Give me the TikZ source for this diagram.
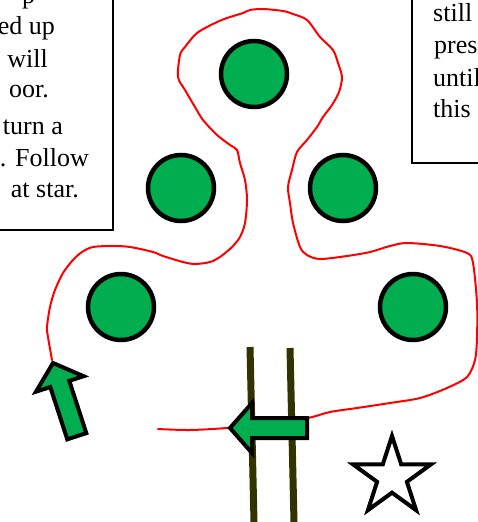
\documentclass[tikz,border=0pt]{standalone}
\usepackage{fontspec}
\setmainfont{Liberation Serif}
\usepackage{tikz}
\usetikzlibrary{shapes.geometric}
\definecolor{treegreen}{RGB}{0,173,79}
\definecolor{postolive}{RGB}{51,51,0}

\begin{document}
\begin{tikzpicture}[
    x=1pt, y=-1pt,
    tree/.style={circle, draw=black, line width=4.5pt, fill=treegreen, minimum size=66pt, inner sep=0pt},
    note/.style={draw=black, line width=1.5pt, fill=white},
    notetext/.style={font=\fontsize{26}{31}\selectfont, inner sep=0pt},
    post/.style={postolive, line width=7pt},
    route/.style={red, line width=2pt, line join=round, line cap=round},
    goal/.style={star, star points=5, star point ratio=2.618, draw=black, line width=4pt, fill=white, minimum size=82pt, inner sep=0pt},
    blockarrow/.pic={\draw[black, line width=4pt, fill=treegreen, miter limit=10]
        (0,0) -- (-22,25) -- (-22,10) -- (-77,10) -- (-77,-10) -- (-22,-10) -- (-22,-25) -- cycle;},
]
\useasboundingbox (0,0) rectangle (478,522);
\clip (0,0) rectangle (478,522);
\fill[white] (0,0) rectangle (478,522);

% notes
\draw[note] (-10,-10) rectangle (113,230);
\node[notetext, anchor=base west] (l0) at (22,3) {p};
\node[notetext, anchor=base east] (l1) at (55,34) {ed up};
\node[notetext, anchor=base east] (l2) at (48,67) {will};
\node[notetext, anchor=base east] (l3) at (49,97) {oor.};
\node[notetext, anchor=base east] (l4) at (63,134) {turn a};
\node[notetext, anchor=base east] (l5) at (89,166) {. Follow};
\node[notetext, anchor=base east] (l6) at (79,197) {at star.};

\draw[note] (412,-10) rectangle (490,163);
\node[notetext, anchor=base west] (r1) at (433,21) {still};
\node[notetext, anchor=base west] (r2) at (434,53) {pres};
\node[notetext, anchor=base west] (r3) at (433,86) {until};
\node[notetext, anchor=base west] (r4) at (433,117) {this};

% route
\draw[route] plot[smooth, tension=0.5] coordinates {
    (158,429) (190,430) (227,428) (270,424) (308,418) (330,412) (357,408) (390,403)
    (420,398) (447,388) (467,377) (475,360) (477,337) (477,303) (473,263) (467,253)
    (440,246) (407,243) (390,246) (370,252) (347,256) (320,259) (307,255) (300,247)
    (293,223) (290,203) (288,187) (292,170) (297,152) (307,140) (317,127) (323,117)
    (332,105) (339,92) (342,77) (338,63) (333,50) (320,37) (307,20) (293,14) (283,11)
    (263,9) (250,10) (243,13) (227,18) (215,23) (197,33) (185,47) (180,55) (178,77)
    (185,90) (195,107) (203,120) (217,135) (230,145) (237,150) (240,163) (245,180)
    (247,200) (245,223) (240,237) (232,247) (220,257) (210,262) (195,264) (183,262)
    (163,256) (153,252) (130,247) (113,246) (93,247) (82,252) (73,260) (63,273)
    (55,290) (50,307) (47,327) (48,337) (52,360)};

% trees
\node[tree] (t1) at (254,74) {};
\node[tree] (t2) at (181,188) {};
\node[tree] (t3) at (343,188) {};
\node[tree] (t4) at (121,307) {};
\node[tree] (t5) at (413,307) {};

% posts
\coordinate (p1a) at (250,347);
\coordinate (p1b) at (254,522);
\coordinate (p2a) at (290,348);
\coordinate (p2b) at (294,522);
\draw[post] (p1a) -- (p1b);
\draw[post] (p2a) -- (p2b);

% arrows
\pic[rotate=108] at (53,363) {blockarrow};
\pic[rotate=180] at (230,428) {blockarrow};

\node[goal] (finish) at (392,477) {};
\end{tikzpicture}
\end{document}
